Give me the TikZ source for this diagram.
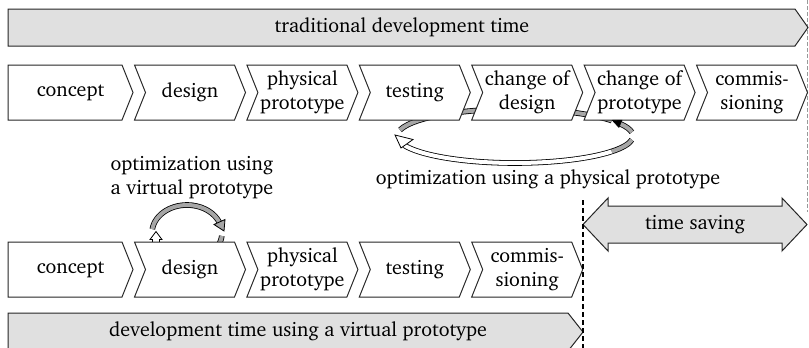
\documentclass[tikz,border=0pt]{standalone}
\usepackage[T1]{fontenc}
\usepackage{charter}
\begin{document}
\begin{tikzpicture}[x=0.5pt,y=-0.5pt,
  box/.style={draw=black!85, line width=0.5pt, fill=white},
  bar/.style={draw=black!85, line width=0.5pt, fill=black!12},
  lbl/.style={inner sep=0pt, align=center, font=\normalsize},
  ribbon/.style={draw=black, line width=0.4pt, double=black!35, double distance=2pt},
  ribbonw/.style={ribbon, double=white},
  headw/.style={draw=black, line width=0.4pt, fill=white},
  headg/.style={draw=black, line width=0.4pt, fill=black!35},
  headb/.style={draw=black, line width=0.3pt, fill=black}]
\useasboundingbox (0,0) rectangle (809,348);

% light dashed border line on the right
\draw[black!40, line width=0.4pt, dash pattern=on 2pt off 1pt] (807.5,0) -- (807.5,212);

% top bar
\draw[bar] (8,9) -- (795,9) -- (808,27.5) -- (795,46) -- (8,46) -- cycle;
\node[lbl] (toptime) at (402,27.5) {traditional development time};

% rear part of the physical-prototype loop (behind the boxes)
\begin{scope}[shift={(515,136)}]
  \draw[ribbon] (193:118 and 27) arc[start angle=193, end angle=325, x radius=118, y radius=27];
\end{scope}

% row 1
\draw[box] (8,65) -- (122,65) -- (133,92.5) -- (122,120) -- (8,120) -- cycle;
\node[lbl] (a0) at (70.5,92.5) {concept};
\foreach \i/\t in {1/design, 2/{physical\\prototype}, 3/testing, 4/{change of\\design}, 5/{change of\\prototype}, 6/{commis-\\sioning}} {
  \pgfmathsetmacro\L{133+112.4*(\i-1)+1.5}
  \draw[box] (\L,65) -- ++(100,0) -- ++(11,27.5) -- ++(-11,27.5) -- ++(-100,0) -- ++(11,-27.5) -- cycle;
  \node[lbl] (a\i) at (\L+55.5,92.5) {\t};
}

% front part of the physical-prototype loop
\begin{scope}[shift={(515,136)}]
  \draw[ribbon] (8:118 and 27) arc[start angle=8, end angle=35, x radius=118, y radius=27];
  \draw[ribbonw] (35:118 and 27) arc[start angle=35, end angle=160, x radius=118, y radius=27];
  \draw[ribbon] (333:118 and 27) arc[start angle=333, end angle=352, x radius=118, y radius=27];
\end{scope}
\draw[headw] (395,135) -- (401,148) -- (413,139.5) -- cycle;
\draw[headb] (612.3,120.3) -- (622,120.2) -- (618.9,127.4) -- cycle;
\node[lbl] (optphys) at (548,179) {optimization using a physical prototype};

% virtual-prototype loop
\node[lbl] (optvirt) at (192,177) {optimization using\\a virtual prototype};
\begin{scope}[shift={(187,233)}]
  \draw[ribbon] (188:35 and 28) arc[start angle=188, end angle=338, x radius=35, y radius=28];
  \draw[ribbon] (6:35 and 28) arc[start angle=6, end angle=30, x radius=35, y radius=28];
\end{scope}
\draw[headg] (224,231) -- (225,219.5) -- (214,224.5) -- cycle;
\draw[headw] (156,231.5) -- (162,239.5) -- (159.5,239.5) -- (159.5,245) -- (152.5,245) -- (152.5,239.5) -- (150,239.5) -- cycle;

% row 2
\draw[box] (8,242) -- (122,242) -- (133,269.5) -- (122,297) -- (8,297) -- cycle;
\node[lbl] (b0) at (70.5,269.5) {concept};
\foreach \i/\t in {1/design, 2/{physical\\prototype}, 3/testing, 4/{commis-\\sioning}} {
  \pgfmathsetmacro\L{133+112.4*(\i-1)+1.5}
  \draw[box] (\L,242) -- ++(100,0) -- ++(11,27.5) -- ++(-11,27.5) -- ++(-100,0) -- ++(11,-27.5) -- cycle;
  \node[lbl] (b\i) at (\L+55.5,269.5) {\t};
}

% bottom bar
\draw[bar] (8,313) -- (568,313) -- (583,332) -- (568,351) -- (8,351) -- cycle;
\node[lbl] (bottime) at (298,331) {development time using a virtual prototype};

% time saving arrow
\draw[bar] (583,224.5) -- (608,198) -- (608,206) -- (782,206) -- (782,198) -- (807,224.5)
  -- (782,251) -- (782,243) -- (608,243) -- (608,251) -- cycle;
\node[lbl] (saving) at (695,224.5) {time saving};

% black dashed marker line
\coordinate (dtop) at (583,200);
\coordinate (dbot) at (583,348);
\draw[black, line width=1pt, dash pattern=on 2.5pt off 1.5pt] (dtop) -- (dbot);
\end{tikzpicture}
\end{document}
